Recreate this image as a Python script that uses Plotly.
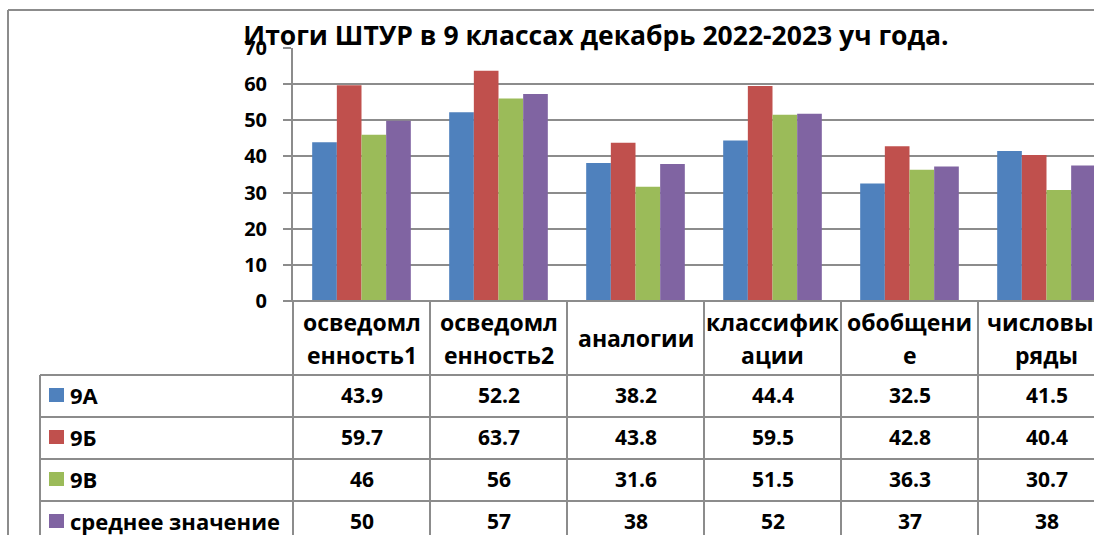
import plotly.graph_objects as go

# ---- data ----
categories = ["осведомленность1", "осведомленность2", "аналогии",
              "классификации", "обобщение", "числовые ряды"]
header_lines = [["осведомл", "енность1"], ["осведомл", "енность2"], ["аналогии"],
                ["классифик", "ации"], ["обобщени", "е"], ["числовые", "ряды"]]
series_names = ["9А", "9Б", "9В", "среднее значение"]
v_9a = [43.9, 52.2, 38.2, 44.4, 32.5, 41.5]
v_9b = [59.7, 63.7, 43.8, 59.5, 42.8, 40.4]
v_9v = [46, 56, 31.6, 51.5, 36.3, 30.7]
v_mean = [49.9, 57.3, 37.9, 51.8, 37.2, 37.5]
y_ticks = [0, 10, 20, 30, 40, 50, 60, 70]
title_text = "Итоги ШТУР в 9 классах декабрь 2022-2023 уч года."

colors = ["#4F81BD", "#C0504D", "#9BBB59", "#8064A2"]
series = [v_9a, v_9b, v_9v, v_mean]
fmts = ["{:g}", "{:g}", "{:g}", "{:.0f}"]

W, H = 1094, 535
L, R, T, B = 293, 0, 48, 234
plot_w = W - L - R
plot_h = H - T - B
FONT = "Open Sans"
GRID = "#8c8c8c"

def py(Y):  # pixel Y -> paper y
    return (H - B - Y) / plot_h

def px(X):  # pixel X -> paper x
    return (X - L) / plot_w

fig = go.Figure()
xs = list(range(len(categories)))
for name, vals, c in zip(series_names, series, colors):
    fig.add_trace(go.Bar(x=xs, y=vals, name=name, marker=dict(color=c, line=dict(width=0)),
                         showlegend=False))

cat_w = 137.0
x_end = -0.5 + plot_w / cat_w

fig.update_layout(
    width=W, height=H,
    margin=dict(l=L, r=R, t=T, b=B, pad=0),
    paper_bgcolor="white", plot_bgcolor="white",
    barmode="group", bargap=0.28, bargroupgap=0,
    title=dict(text=title_text, x=596 / W, xanchor="center",
               y=1 - 36 / H, yanchor="middle", yref="container",
               font=dict(family=FONT, size=26.5, color="black", weight="bold")),
    xaxis=dict(range=[-0.5, x_end], showticklabels=False, showgrid=False,
               zeroline=False, showline=False, ticks="", fixedrange=True),
    yaxis=dict(range=[0, 70], tickvals=y_ticks, showgrid=True, gridcolor=GRID, gridwidth=2,
               showline=True, linecolor=GRID, linewidth=2, zeroline=False,
               ticks="outside", ticklen=8, tickcolor=GRID, tickwidth=2,
               ticklabelstandoff=12,
               tickfont=dict(family=FONT, size=20, color="black", weight="bold"),
               fixedrange=True),
)

shapes = []
line = dict(color=GRID, width=2)
shapes.append(dict(type="line", xref="paper", yref="paper", x0=px(8), x1=px(W + 5),
                   y0=py(10), y1=py(10), line=line))
shapes.append(dict(type="line", xref="paper", yref="paper", x0=px(8), x1=px(8),
                   y0=py(10), y1=py(H + 5), line=line))
shapes.append(dict(type="line", xref="paper", yref="paper", x0=px(285), x1=px(W + 5),
                   y0=0, y1=0, line=line))
shapes.append(dict(type="line", xref="paper", yref="paper", x0=0, x1=0,
                   y0=0, y1=py(H + 5), line=line))
for k in range(1, len(categories)):
    shapes.append(dict(type="line", xref="x", yref="paper", x0=k - 0.5, x1=k - 0.5,
                       y0=0, y1=py(H + 5), line=line))
row_tops = [375, 417, 459, 501]
row_h = 42
shapes.append(dict(type="line", xref="paper", yref="paper", x0=px(40), x1=px(40),
                   y0=py(row_tops[0]), y1=py(H + 5), line=line))
for yt in row_tops:
    shapes.append(dict(type="line", xref="paper", yref="paper", x0=px(40), x1=px(W + 5),
                       y0=py(yt), y1=py(yt), line=line))
for i, c in enumerate(colors):
    yc = row_tops[i] + row_h / 2 - 1
    shapes.append(dict(type="rect", xref="paper", yref="paper", x0=px(49), x1=px(64),
                       y0=py(yc - 7), y1=py(yc + 7), fillcolor=c, line=dict(width=0)))

annotations = []
hf = dict(family=FONT, size=23, color="black", weight="bold")
lf = dict(family=FONT, size=22, color="black", weight="bold")
vf = dict(family=FONT, size=21, color="black", weight="bold")
for i, lines in enumerate(header_lines):
    ys = [338] if len(lines) == 1 else [322, 355]
    for ln, yy in zip(lines, ys):
        annotations.append(dict(x=i, xref="x", y=py(yy), yref="paper", text=ln,
                                showarrow=False, xanchor="center", yanchor="middle", font=hf))
for r, (name, vals, f) in enumerate(zip(series_names, series, fmts)):
    yc = row_tops[r] + row_h / 2 - 1
    annotations.append(dict(x=px(68), xref="paper", y=py(yc), yref="paper",
                            text=name, showarrow=False,
                            xanchor="left", yanchor="middle", font=lf))
    for i, v in enumerate(vals):
        annotations.append(dict(x=i, xref="x", y=py(yc), yref="paper",
                                text=f.format(v), showarrow=False,
                                xanchor="center", yanchor="middle", font=vf))

fig.update_layout(shapes=shapes, annotations=annotations)
fig.write_html("out.html", config={"displayModeBar": False},
               post_script="document.body.style.margin='0';document.body.style.overflow='hidden';")
